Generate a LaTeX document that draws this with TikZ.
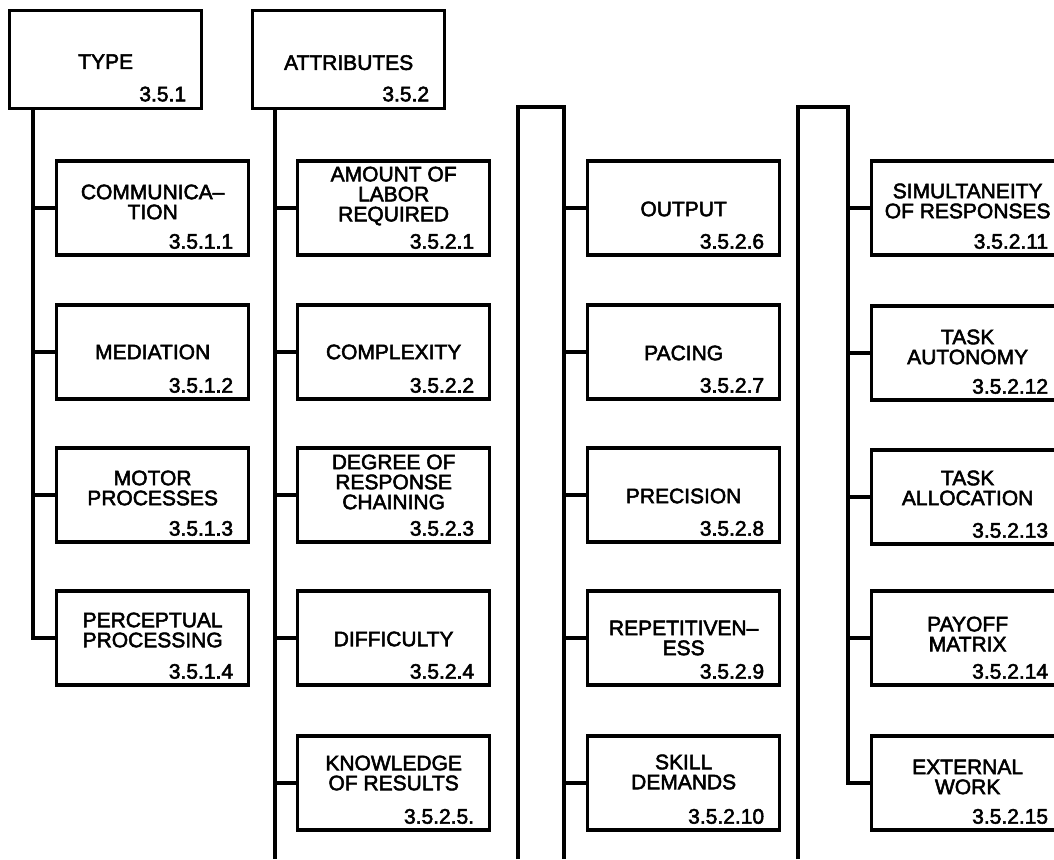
\documentclass[tikz,border=0pt]{standalone}
\usepackage{fontspec}
\newfontfamily\labfont[FakeBold=2.5]{Liberation Sans}
\tikzset{
  ln/.style={line width=3.3pt},
  bx/.style={draw, line width=3.3pt, minimum width=192pt, minimum height=94pt, inner sep=0pt, anchor=west},
  tbx/.style={draw, line width=3.3pt, minimum width=192pt, minimum height=98pt, inner sep=0pt, anchor=north west},
  lbl/.style={font=\labfont\fontsize{21}{20}\selectfont, align=center, inner sep=0pt},
  num/.style={font=\labfont\fontsize{21}{20}\selectfont, anchor=base east, inner sep=0pt}
}
\newcommand\tbox[6]{%
  \node[bx] (#1) at (#2,#3) {};
  \node[lbl, yshift=#6pt] (#1-t) at (#1.center) {#4};
  \node[num] (#1-n) at ([xshift=-17pt,yshift=8pt]#1.south east) {#5};
}
\begin{document}
\begin{tikzpicture}[x=1pt,y=-1pt]
\useasboundingbox (0,0) rectangle (1054,859);
\clip (0,0) rectangle (1054,859);
% top boxes
\node[tbx] (type) at (8,9) {};
\node[lbl, yshift=-2pt] (type-t) at (type.center) {TYPE};
\node[num] (type-n) at ([xshift=-17pt,yshift=9pt]type.south east) {3.5.1};
\node[tbx] (attr) at (251,9) {};
\node[lbl, yshift=-3pt] (attr-t) at (attr.center) {ATTRIBUTES};
\node[num] (attr-n) at ([xshift=-17pt,yshift=9pt]attr.south east) {3.5.2};
% column 1
\tbox{comm}{55}{208}{COMMUNICA–\\TION}{3.5.1.1}{6}
\tbox{med}{55}{352}{MEDIATION}{3.5.1.2}{0}
\tbox{motor}{55}{495}{MOTOR\\PROCESSES}{3.5.1.3}{7}
\tbox{perc}{55}{638}{PERCEPTUAL\\PROCESSING}{3.5.1.4}{8}
% column 2
\tbox{amount}{296}{208}{AMOUNT OF\\LABOR\\REQUIRED}{3.5.2.1}{12}
\tbox{compl}{296}{352}{COMPLEXITY}{3.5.2.2}{0}
\tbox{degree}{296}{495}{DEGREE OF\\RESPONSE\\CHAINING}{3.5.2.3}{13}
\tbox{diff}{296}{638}{DIFFICULTY}{3.5.2.4}{-1}
\tbox{know}{296}{783}{KNOWLEDGE\\OF RESULTS}{3.5.2.5.}{10}
% column 3
\tbox{output}{586}{208}{OUTPUT}{3.5.2.6}{-1}
\tbox{pacing}{586}{352}{PACING}{3.5.2.7}{-1}
\tbox{prec}{586}{495}{PRECISION}{3.5.2.8}{-1}
\tbox{rep}{586}{638}{REPETITIVEN–\\ESS}{3.5.2.9}{0}
\tbox{skill}{586}{783}{SKILL\\DEMANDS}{3.5.2.10}{11}
% column 4
\tbox{simul}{870}{208}{SIMULTANEITY\\OF RESPONSES}{3.5.2.11}{7}
\tbox{auton}{870}{353}{TASK\\AUTONOMY}{3.5.2.12}{6}
\tbox{alloc}{870}{497}{TASK\\ALLOCATION}{3.5.2.13}{9}
\tbox{payoff}{870}{638}{PAYOFF\\MATRIX}{3.5.2.14}{4}
\tbox{ext}{870}{783}{EXTERNAL\\WORK}{3.5.2.15}{6}
% trunk of TYPE
\coordinate (ta) at ([xshift=25pt]type.south west);
\draw[ln] (ta) |- (perc.west);
\foreach \n in {comm,med,motor} \draw[ln] (\n.west) -- (\n.west -| ta);
% trunk of ATTRIBUTES
\coordinate (tb) at ([xshift=24pt]attr.south west);
\coordinate (tbend) at (275,859);
\draw[ln] (tb) -- (tbend);
\foreach \n in {amount,compl,degree,diff,know} \draw[ln] (\n.west) -- (\n.west -| tb);
% column 3 frame
\coordinate (c3a) at (518,859);
\coordinate (c3b) at (518,107);
\coordinate (c3c) at (564,107);
\coordinate (c3d) at (564,859);
\draw[ln] (c3a) -- (c3b) -- (c3c) -- (c3d);
\foreach \n in {output,pacing,prec,rep,skill} \draw[ln] (\n.west) -- (\n.west -| c3c);
% column 4 frame
\coordinate (c4a) at (798,859);
\coordinate (c4b) at (798,107);
\coordinate (c4c) at (848,107);
\draw[ln] (c4a) -- (c4b) -- (c4c) |- (ext.west);
\foreach \n in {simul,auton,alloc,payoff} \draw[ln] (\n.west) -- (\n.west -| c4c);
\end{tikzpicture}
\end{document}
